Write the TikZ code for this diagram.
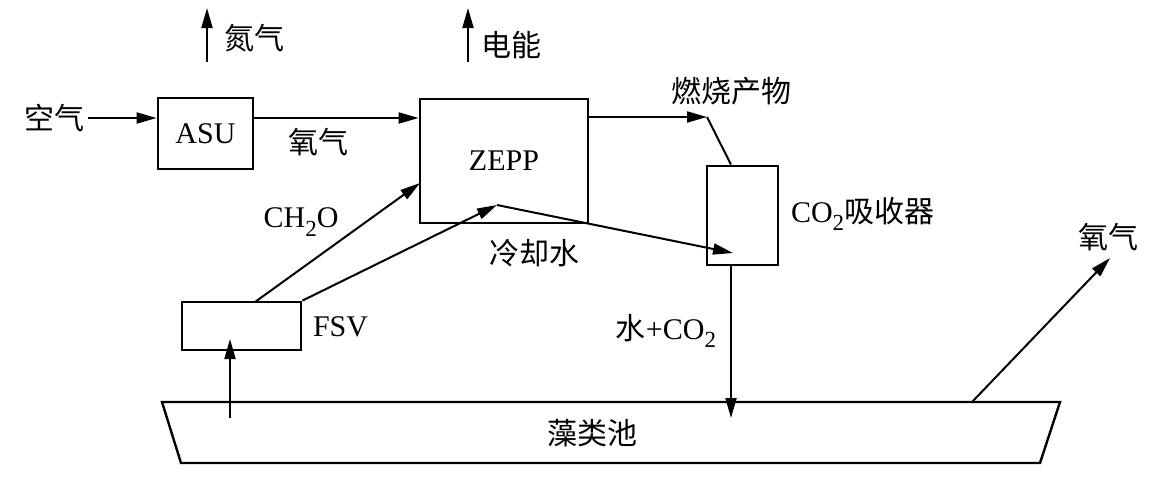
\documentclass[tikz,border=0pt]{standalone}
\usepackage{fontspec}
\setmainfont{Liberation Serif}
\newfontfamily\cjk{Noto Sans CJK SC}
\usetikzlibrary{arrows.meta}

\newcommand\lowtwo{\raisebox{-0.6ex}{\fontsize{11.5}{12}\selectfont 2}}

\tikzset{
    >={Triangle[length=10pt,width=5.5pt]},
    box/.style={draw, rectangle, inner sep=0pt, line width=1.4pt},
    lbl/.style={font=\fontsize{15}{18}\selectfont, inner sep=1pt},
}

\begin{document}
\begin{tikzpicture}[x=0.5pt, y=-0.5pt, line width=1pt]
                \useasboundingbox (0,0) rectangle (1162,483);

                % Boxes
                \node[box, lbl, minimum width=47.5pt, minimum height=35.5pt] (ASU) at (205.5,133.5) {ASU};
                \node[box, lbl, minimum width=84pt, minimum height=62pt] (ZEPP) at (504,161) {ZEPP};
                \node[box, minimum width=35.5pt, minimum height=49.5pt] (absorber) at (742.5,215.5) {};
                \node[box, minimum width=59.5pt, minimum height=24pt] (FSV) at (241.5,326) {};

                % Pool
                \draw[line width=1.2pt] (162,402) -- (1060,402) -- (1040,463) -- (181,463) -- cycle;
                \node[lbl] (pool) at (592,433) {\cjk 藻类池};

                % Labels
                \node[lbl, anchor=east] (air) at (88,118) {\cjk 空气};
                \node[lbl] (n2) at (254,38) {\cjk 氮气};
                \node[lbl] (elec) at (511,45) {\cjk 电能};
                \node[lbl] (o2) at (318,142) {\cjk 氧气};
                \node[lbl] (flue) at (731,91) {\cjk 燃烧产物};
                \node[lbl] (ch2o) at (301,222) {CH\lowtwo O};
                \node[lbl] (cool) at (534,253) {\cjk 冷却水};
                \node[lbl, anchor=west] (abslabel) at (788,214) {CO\lowtwo{\cjk 吸收器}};
                \node[lbl, anchor=west] (fsvlabel) at (310,327) {FSV};
                \node[lbl] (wco2) at (666,331) {{\cjk 水}+CO\lowtwo};
                \node[lbl] (o2out) at (1108,237) {\cjk 氧气};

                % Points
                \coordinate (n2a) at (207,62);
                \coordinate (n2b) at (207,8);
                \coordinate (ela) at (468,62);
                \coordinate (elb) at (468,8);
                \coordinate (bend) at (707,117);
                \coordinate (absx) at (731,0);
                \coordinate (apex) at (497,205);
                \coordinate (coolend) at (733,253);
                \coordinate (ch2oout) at (255,302);
                \coordinate (ch2oin) at (420,183);
                \coordinate (poolin) at (731,418);
                \coordinate (poolout) at (230,418);
                \coordinate (fsvin) at (230,339);
                \coordinate (o2a) at (972,402);
                \coordinate (o2b) at (1110,258);

                % Edges
                \draw[->] (air) -- (air -| ASU.west);
                \draw[->] (ASU.east |- air) -- (ZEPP.west |- air);
                \draw[->] (n2a) -- (n2b);
                \draw[->] (ela) -- (elb);
                \draw[->] (ZEPP.east |- bend) -- (bend);
                \draw (bend) -- (absorber.north -| absx);
                \draw[->] (ch2oout) -- (ch2oin);
                \draw[->] (FSV.north east) -- (apex);
                \draw[->] (apex) -- (coolend);
                \draw[->] (absorber.south -| absx) -- (poolin);
                \draw[->] (poolout) -- (fsvin);
                \draw[->] (o2a) -- (o2b);
            \end{tikzpicture}
\end{document}
